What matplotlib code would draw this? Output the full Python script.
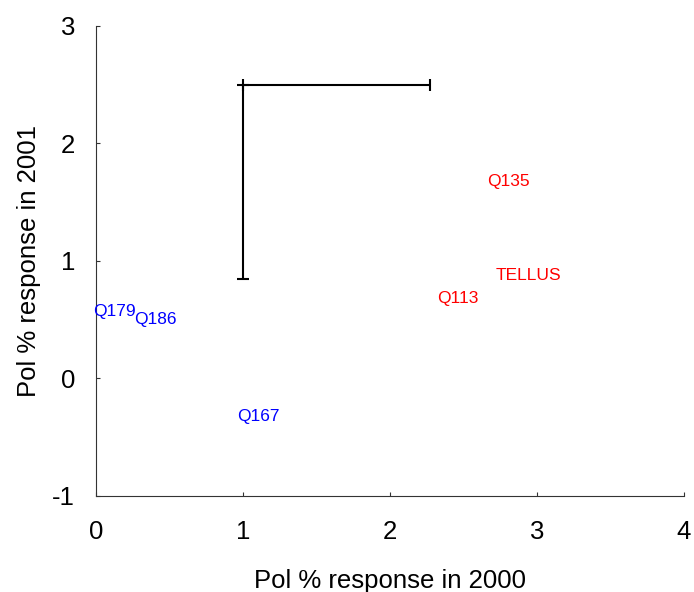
import matplotlib
matplotlib.use("Agg")
import matplotlib.pyplot as plt

plt.rcParams['font.family'] = ['Liberation Sans', 'DejaVu Sans']
plt.rcParams['axes.unicode_minus'] = False

# item labels and their positions (2000 vs 2001 response)
labels = ["Q179", "Q186", "Q167", "Q113", "TELLUS", "Q135"]
x_2000 = [-0.02, 0.26, 0.96, 2.32, 2.72, 2.66]
y_2001 = [0.57, 0.50, -0.32, 0.68, 0.88, 1.68]
colors = ["blue", "blue", "blue", "red", "red", "red"]

# scale bar (error bar anchored at one corner)
bar_x = 1.0
bar_y = 2.5
bar_xerr = 1.27
bar_yerr = 1.65

x_ticks = [0, 1, 2, 3, 4]
y_ticks = [-1, 0, 1, 2, 3]

fig = plt.figure(figsize=(6.94, 5.92), dpi=100)
ax = fig.add_axes([0.1383, 0.1622, 0.8473, 0.7939])

for lab, x, y, c in zip(labels, x_2000, y_2001, colors):
    ax.text(x, y, lab, color=c, fontsize=12.5, ha='left', va='center')

ax.errorbar([bar_x], [bar_y], xerr=[[0], [bar_xerr]], yerr=[[bar_yerr], [0]],
            fmt='none', ecolor='black', elinewidth=1.5, capsize=4.5, capthick=1.5)

ax.set_xlim(0, 4)
ax.set_ylim(-1, 3)
ax.set_xticks(x_ticks)
ax.set_yticks(y_ticks)

for side in ['top', 'right']:
    ax.spines[side].set_visible(False)
for side in ['left', 'bottom']:
    ax.spines[side].set_color('#333333')
    ax.spines[side].set_linewidth(0.8)

ax.tick_params(direction='in', length=3, width=0.8, color='#333333', labelsize=18.5)
ax.tick_params(axis='x', pad=17)
ax.tick_params(axis='y', pad=15)

ax.set_xlabel("Pol % response in 2000", fontsize=18.5, labelpad=18)
ax.set_ylabel("Pol % response in 2001", fontsize=18.5, labelpad=8)

fig.savefig("out.png", dpi=100)
